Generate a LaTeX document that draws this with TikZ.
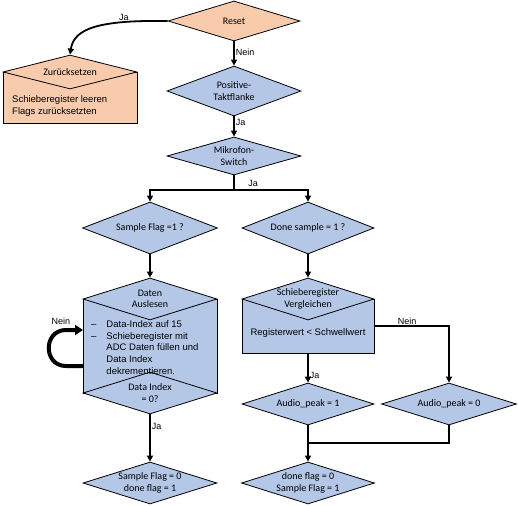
\documentclass[tikz,border=0pt]{standalone}
\usepackage{fontspec}
\setmainfont{Liberation Sans}
\newfontfamily\calfont{Carlito}
\usetikzlibrary{shapes.geometric,arrows.meta}
\definecolor{orfill}{HTML}{F8CBAD}
\definecolor{blfill}{HTML}{B4C7E7}
\tikzset{
  dtext/.style={inner sep=0pt,align=center,font=\calfont\fontsize{10}{11.5}\selectfont},
  dia/.style={diamond,draw=black,line width=0.8pt,fill=blfill,inner sep=0pt},
  odia/.style={dia,fill=orfill},
  dl/.style={label={[dtext]center:#1}},
  box/.style={rectangle,draw=black,line width=0.8pt,fill=blfill,inner sep=0pt},
  obox/.style={box,fill=orfill},
  conn/.style={line width=1.8pt,-{Triangle[length=6pt,width=6pt]}},
  plain/.style={line width=1.8pt},
  lbl/.style={font=\fontsize{9}{10}\selectfont,inner sep=1pt},
  body/.style={font=\fontsize{9.5}{11.7}\selectfont,inner sep=0pt}
}
\begin{document}
\begin{tikzpicture}[x=1pt,y=-1pt]
\useasboundingbox (0,0) rectangle (518,505);
% top
\node[odia,minimum width=132,minimum height=40,dl={Reset}] (reset) at (234,21) {};
\node[dia,minimum width=134,minimum height=50,dl={Positive-\\Taktflanke}] (pos) at (234,91) {};
\node[dia,minimum width=134,minimum height=38,dl={Mikrofon-\\Switch}] (mik) at (234,156) {};
% Zuruecksetzen
\node[obox,minimum width=134,minimum height=51] (zur) at (70,97.5) {};
\node[odia,minimum width=134,minimum height=34,dl={Zurücksetzen}] (zt) at (70,72) {};
\node[body,anchor=west,align=left] (zurtxt) at (12,106) {Schieberegister leeren\\Flags zurücksetzten};
% second row
\node[dia,minimum width=135,minimum height=52,dl={Sample Flag =1 ?}] (sf1) at (150,228) {};
\node[dia,minimum width=132,minimum height=52,dl={Done sample = 1 ?}] (ds1) at (308,228) {};
% Daten auslesen
\node[box,minimum width=134,minimum height=94] (daten) at (150,346) {};
\node[dia,minimum width=134,minimum height=42,dl={Daten\\Auslesen}] (dtop) at (150,299) {};
\node[dia,minimum width=134,minimum height=42] (dbot) at (150,393) {};
\node[dtext] (dbottxt) at (150,393) {Data Index\\= 0?};
\node[body,anchor=north west] (dtxt) at (91,319) {\begin{tabular}{@{}l@{\hspace{10pt}}l@{}}
–& Data-Index auf 15\\
–& Schieberegister mit\\
 & ADC Daten füllen und\\
 & Data Index\\
 & dekrementieren.
\end{tabular}};
% Schieberegister vergleichen
\node[box,minimum width=132,minimum height=54] (sv) at (308,326) {};
\node[dia,minimum width=132,minimum height=42,dl={Schieberegister\\Vergleichen}] (svt) at (308,299) {};
\node[body] (svtxt) at (308,333) {Registerwert < Schwellwert};
% audio peak
\node[dia,minimum width=132,minimum height=42,dl={Audio\_peak = 1}] (ap1) at (308,404) {};
\node[dia,minimum width=135,minimum height=42,dl={Audio\_peak = 0}] (ap0) at (449,404) {};
% bottom
\node[dia,minimum width=134,minimum height=42,dl={Sample Flag = 0\\done flag = 1}] (sf0) at (150,483) {};
\node[dia,minimum width=133,minimum height=42,dl={done flag = 0\\Sample Flag = 1}] (dfl) at (308,483) {};
% connectors
\draw[conn] (reset.south) -- node[lbl,right,pos=0.45] {Nein} (pos.north);
\draw[conn] (pos.south) -- node[lbl,right,pos=0.3] {Ja} (mik.north);
\draw[conn] (reset.west) .. controls (100,20) and (74,28) .. (zt.north);
\node[lbl] (jaz) at (124,17) {Ja};
\coordinate (split) at (234,190);
\draw[plain] (mik.south) -- (split);
\node[lbl] (jam) at (253,183) {Ja};
\draw[conn] (split) -| (sf1.north);
\draw[conn] (split) -| (ds1.north);
\draw[conn] (sf1.south) -- (dtop.north);
\draw[conn] (ds1.south) -- (svt.north);
\coordinate (lpA) at (83,366);
\coordinate (lpB) at (83,330);
\draw[line width=4pt,-{Triangle[length=8pt,width=10pt]}] (lpA) -- (66,366) .. controls (43,366) and (43,330) .. (66,330) -- (lpB);
\node[lbl] (nl) at (61,321) {Nein};
\draw[conn] (dbot.south) -- node[lbl,right,pos=0.25] {Ja} (sf0.north);
\draw[conn] (sv.east) -| node[lbl,above,pos=0.22] {Nein} (ap0.north);
\draw[conn] (sv.south) -- node[lbl,right,pos=0.75] {Ja} (ap1.north);
\draw[conn] (ap1.south) -- (dfl.north);
\coordinate (mrg) at (308,443);
\draw[plain] (ap0.south) |- (mrg);
\end{tikzpicture}
\end{document}
